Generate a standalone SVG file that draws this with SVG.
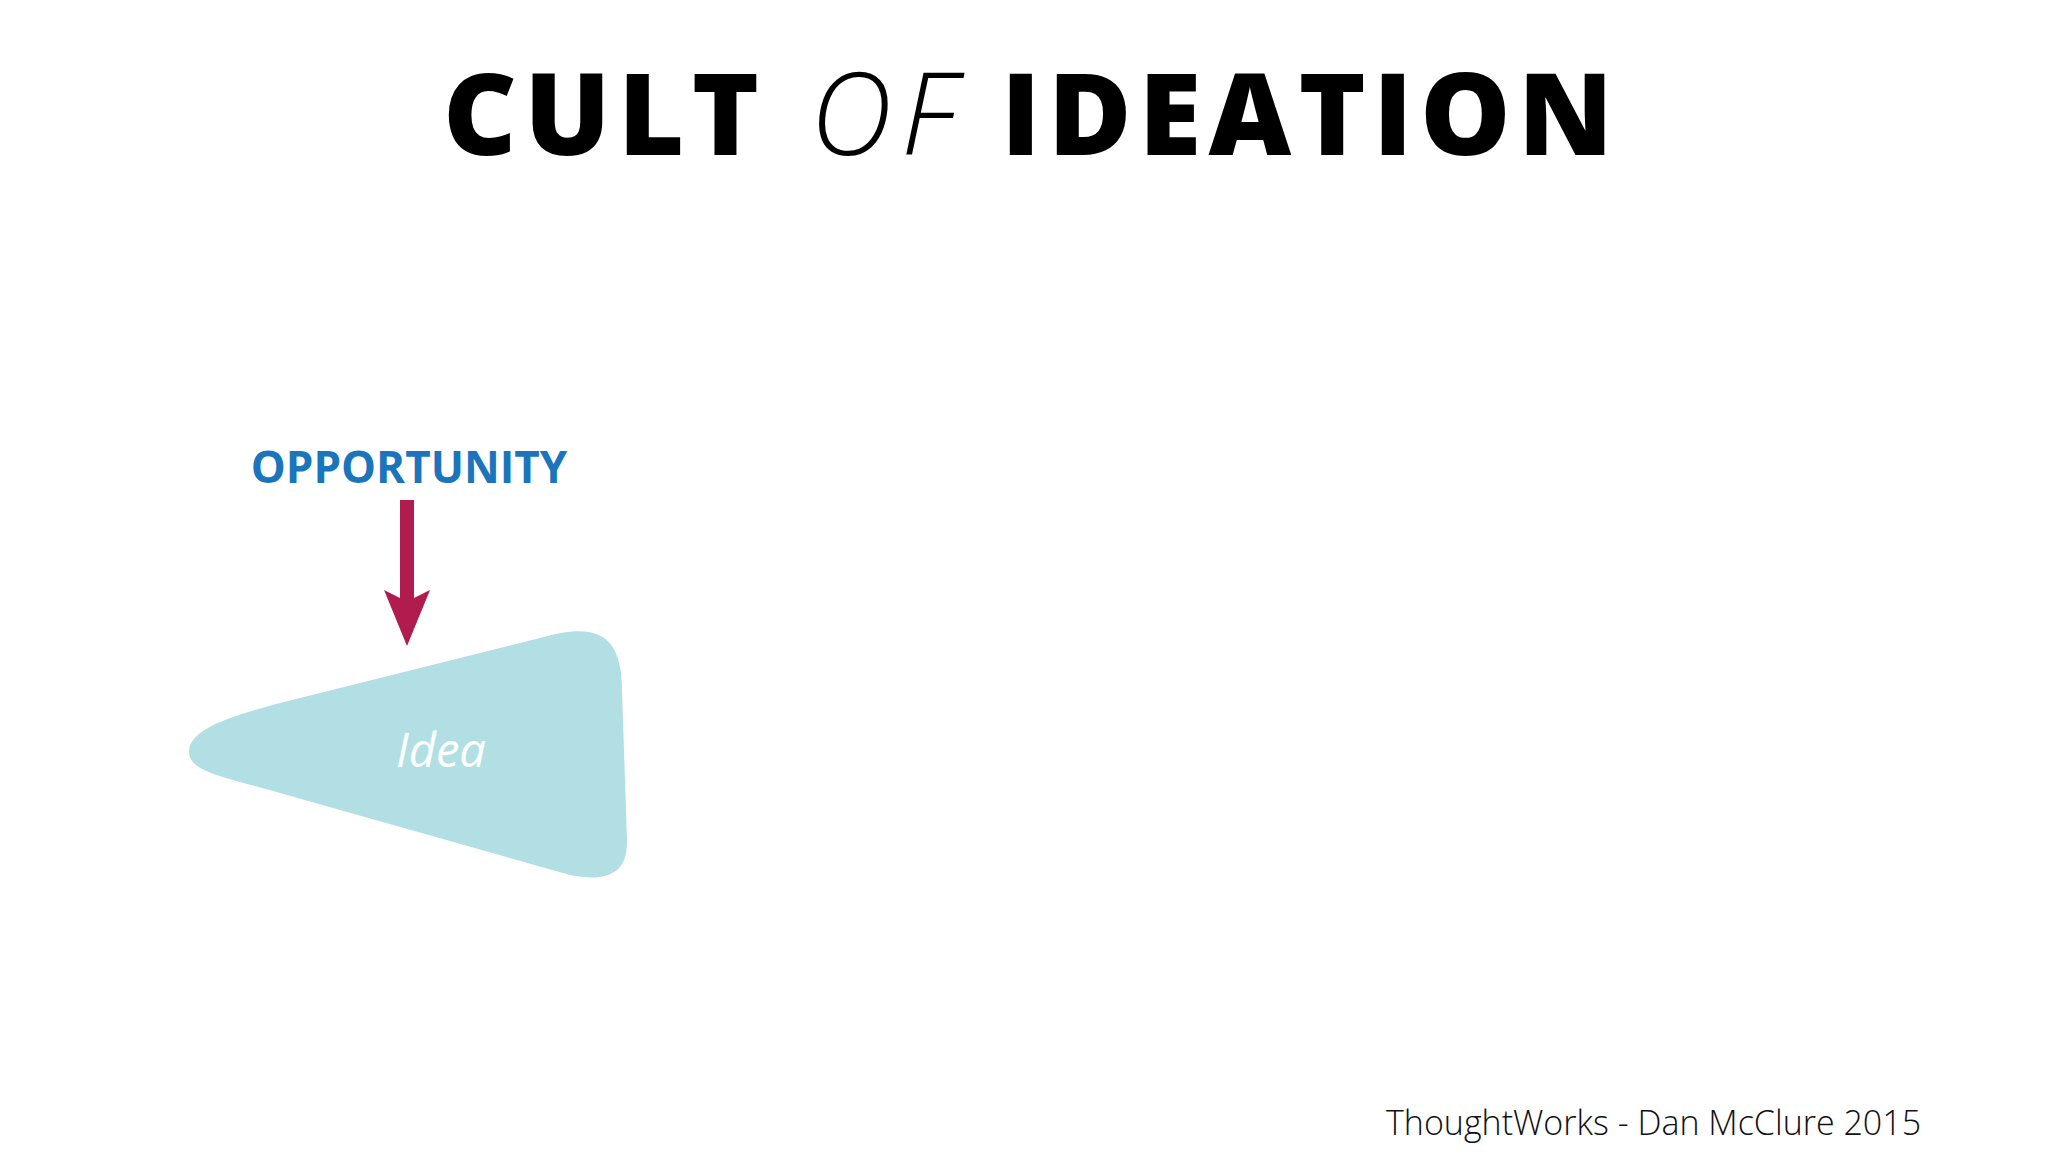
<svg xmlns="http://www.w3.org/2000/svg" width="2048" height="1152" viewBox="0 0 2048 1152">
<style>
.title{font-family:"Open Sans","Liberation Sans",sans-serif;font-size:114px;fill:#000}
.tb{font-weight:800}
.ti{font-weight:300;font-style:italic}
.opp{font-family:"Open Sans","Liberation Sans",sans-serif;font-weight:700;font-size:44px;fill:#1b75bc}
.idea{font-family:"Open Sans","Liberation Sans",sans-serif;font-style:italic;font-weight:500;font-size:47px;fill:#fff}
.foot{font-family:"Open Sans","Liberation Sans",sans-serif;font-weight:300;font-size:34px;fill:#111}
</style>
<rect width="2048" height="1152" fill="#fff"/>
<g id="title">
<text class="title tb" x="443" y="155" textLength="316" lengthAdjust="spacing">CULT</text>
<text class="title ti" x="810" y="155" textLength="146" lengthAdjust="spacing">OF</text>
<text class="title tb" x="1001" y="155" textLength="612" lengthAdjust="spacing">IDEATION</text>
</g>
<g id="opportunity">
<text class="opp" x="409" y="483" text-anchor="middle">OPPORTUNITY</text>
</g>
<g id="idea">
<path d="M189,752 C189,730 225,718 280,703 L540,638 C590,624 622,628 622,690 L627,840 C628,875 605,882 570,875 L280,793 C225,777 189,772 189,752 Z" fill="#b2dfe3"/>
<text class="idea" x="441" y="767" text-anchor="middle">Idea</text>
</g>
<g id="connectors">
<path d="M400,500 H414 V598 L430,590 L407,646 L384,590 L400,598 Z" fill="#b01c4e"/>
</g>
<g id="footer">
<text class="foot" x="1386" y="1135">ThoughtWorks - Dan McClure 2015</text>
</g>
</svg>
